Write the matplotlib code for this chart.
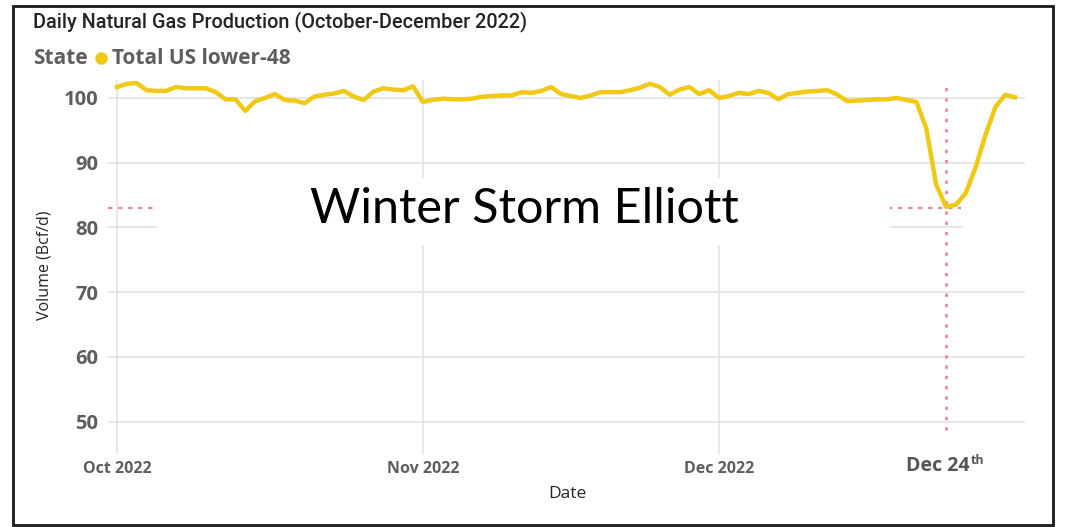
import matplotlib
matplotlib.use("Agg")
import matplotlib.pyplot as plt
import matplotlib.dates as mdates
from matplotlib.patches import Rectangle
from matplotlib.lines import Line2D
import pandas as pd
import numpy as np

# ---------------- data ----------------
start_date = "2022-10-01"
end_date = "2022-12-31"
production_oct = [101.7, 102.2, 102.3, 101.2, 101.1, 101.1, 101.7, 101.5, 101.5, 101.5,
                  100.9, 99.8, 99.8, 98.0, 99.5, 100.0, 100.6, 99.7, 99.6, 99.2,
                  100.2, 100.5, 100.7, 101.1, 100.2, 99.7, 101.0, 101.5, 101.3, 101.2, 101.8]
production_nov = [99.4, 99.7, 99.9, 99.8, 99.8, 99.9, 100.2, 100.3, 100.4, 100.4,
                  100.9, 100.8, 101.1, 101.7, 100.6, 100.3, 100.0, 100.4, 100.9, 100.9,
                  100.9, 101.2, 101.6, 102.2, 101.7, 100.5, 101.3, 101.7, 100.6, 101.2]
production_dec = [100.0, 100.3, 100.8, 100.6, 101.1, 100.8, 99.8, 100.6, 100.8, 101.0,
                  101.1, 101.2, 100.5, 99.5, 99.6, 99.7, 99.8, 99.8, 100.0, 99.7,
                  99.4, 95.3, 86.6, 83.2, 83.5, 85.3, 89.3, 94.3, 98.6, 100.5, 100.1]
values = production_oct + production_nov + production_dec
dates = pd.date_range(start_date, end_date, freq="D")

y_ticks = [50, 60, 70, 80, 90, 100]
x_tick_dates = ["2022-10-01", "2022-11-01", "2022-12-01"]
x_tick_labels = ["Oct 2022", "Nov 2022", "Dec 2022"]

storm_date = pd.Timestamp("2022-12-24")
storm_low = 83.0
storm_label = "Winter Storm Elliott"

title = "Daily Natural Gas Production (October-December 2022)"
legend_title = "State"
series_name = "Total US lower-48"

# ---------------- style ----------------
YELLOW = "#F0C915"
GRID = "#E0E0E0"
TICK = "#605E5C"
DARK = "#252423"
PINK = "#E8899E"
FONT = "Open Sans"

W, H = 1071, 527
fig = plt.figure(figsize=(W / 100, H / 100), dpi=100)
fig.patch.set_facecolor("white")

def px(x, y):
    return x / W, 1 - y / H

left, top, right, bottom = 108, 80, 1025, 454
ax = fig.add_axes([left / W, 1 - bottom / H, (right - left) / W, (bottom - top) / H])

x0 = mdates.date2num(pd.Timestamp(start_date))
ax.set_xlim(x0 - 0.91, x0 + 92.0)
ax.set_ylim(44.98, 102.78)

for s in ax.spines.values():
    s.set_visible(False)

ax.set_yticks(y_ticks)
ax.set_yticklabels([str(v) for v in y_ticks], fontfamily=FONT, fontweight="bold",
                   fontsize=14.5, color=TICK)
ax.set_xticks([mdates.date2num(pd.Timestamp(d)) for d in x_tick_dates])
ax.set_xticklabels(x_tick_labels, fontfamily=FONT, fontweight="bold", fontsize=11.5, color=TICK)
ax.tick_params(axis="both", length=0)
ax.tick_params(axis="y", pad=7)
ax.tick_params(axis="x", pad=5)
ax.grid(True, color=GRID, linewidth=1.1, zorder=0)
ax.set_axisbelow(True)

ax.set_xlabel("Date", fontfamily=FONT, fontsize=12.5, color=DARK)
ax.xaxis.set_label_coords(0.5005, -0.086)
ax.set_ylabel("Volume (Bcf/d)", fontfamily=FONT, fontsize=11.5, color=DARK)
ax.yaxis.set_label_coords(-0.060, 0.505)

# annotation lines
ax.hlines(storm_low, ax.get_xlim()[0], mdates.date2num(storm_date) + 1.5,
          colors=PINK, linestyles=(0, (2, 2.5)), linewidth=1.6, zorder=2)
ax.axvline(storm_date, ymin=0.064, ymax=0.995, color=PINK, linestyle=(0, (1.2, 2.5)),
           linewidth=2.0, zorder=2)

# white boxes hiding grid behind annotation
ax.add_patch(Rectangle(((157 - left) / (right - left), (bottom - 245) / (bottom - top)),
                       (890 - 157) / (right - left), (245 - 178) / (bottom - top),
                       transform=ax.transAxes, facecolor="white", edgecolor="none", zorder=3))
ax.add_patch(Rectangle(((963 - left) / (right - left), (bottom - 240) / (bottom - top)),
                       (right + 5 - 963) / (right - left), (240 - 215) / (bottom - top),
                       transform=ax.transAxes, facecolor="white", edgecolor="none", zorder=3,
                       clip_on=False))

ax.plot(dates, values, color=YELLOW, linewidth=3.2, solid_joinstyle="round", zorder=4)

ax.text((524 - left) / (right - left), (bottom - 209) / (bottom - top), storm_label,
        transform=ax.transAxes, ha="center", va="center", fontfamily="Lato",
        fontweight="normal", fontsize=35, color="black", zorder=5)

# Dec 24th label
ax.annotate(storm_date.strftime("Dec %d"), xy=(storm_date, 0), xycoords=("data", "axes fraction"),
            xytext=(23, -17), textcoords="offset pixels", ha="right", va="baseline",
            fontfamily=FONT, fontweight="bold", fontsize=14, color="#555555")
ax.annotate("th", xy=(storm_date, 0), xycoords=("data", "axes fraction"),
            xytext=(25, -10), textcoords="offset pixels", ha="left", va="baseline",
            fontfamily=FONT, fontweight="bold", fontsize=9, color="#555555")

# title and legend
fig.text(*px(33, 22), title, ha="left", va="center", fontfamily="Roboto",
         fontweight="medium", fontsize=14.3, color=DARK)
fig.text(*px(33, 58), legend_title, ha="left", va="center", fontfamily=FONT,
         fontweight="bold", fontsize=15, color=TICK)
fig.add_artist(Line2D([px(101, 58)[0]], [px(101, 58)[1]], marker="o", markersize=8,
                      color=YELLOW, transform=fig.transFigure))
fig.text(*px(112, 58), series_name, ha="left", va="center", fontfamily=FONT,
         fontweight="bold", fontsize=15, color=TICK)

# outer border
fig.add_artist(Rectangle((13 / W, 2 / H), (1053 - 13) / W, (521 - 2) / H,
                         transform=fig.transFigure, facecolor="none",
                         edgecolor="#1a1a1a", linewidth=2))

fig.savefig("out.png", dpi=100)
